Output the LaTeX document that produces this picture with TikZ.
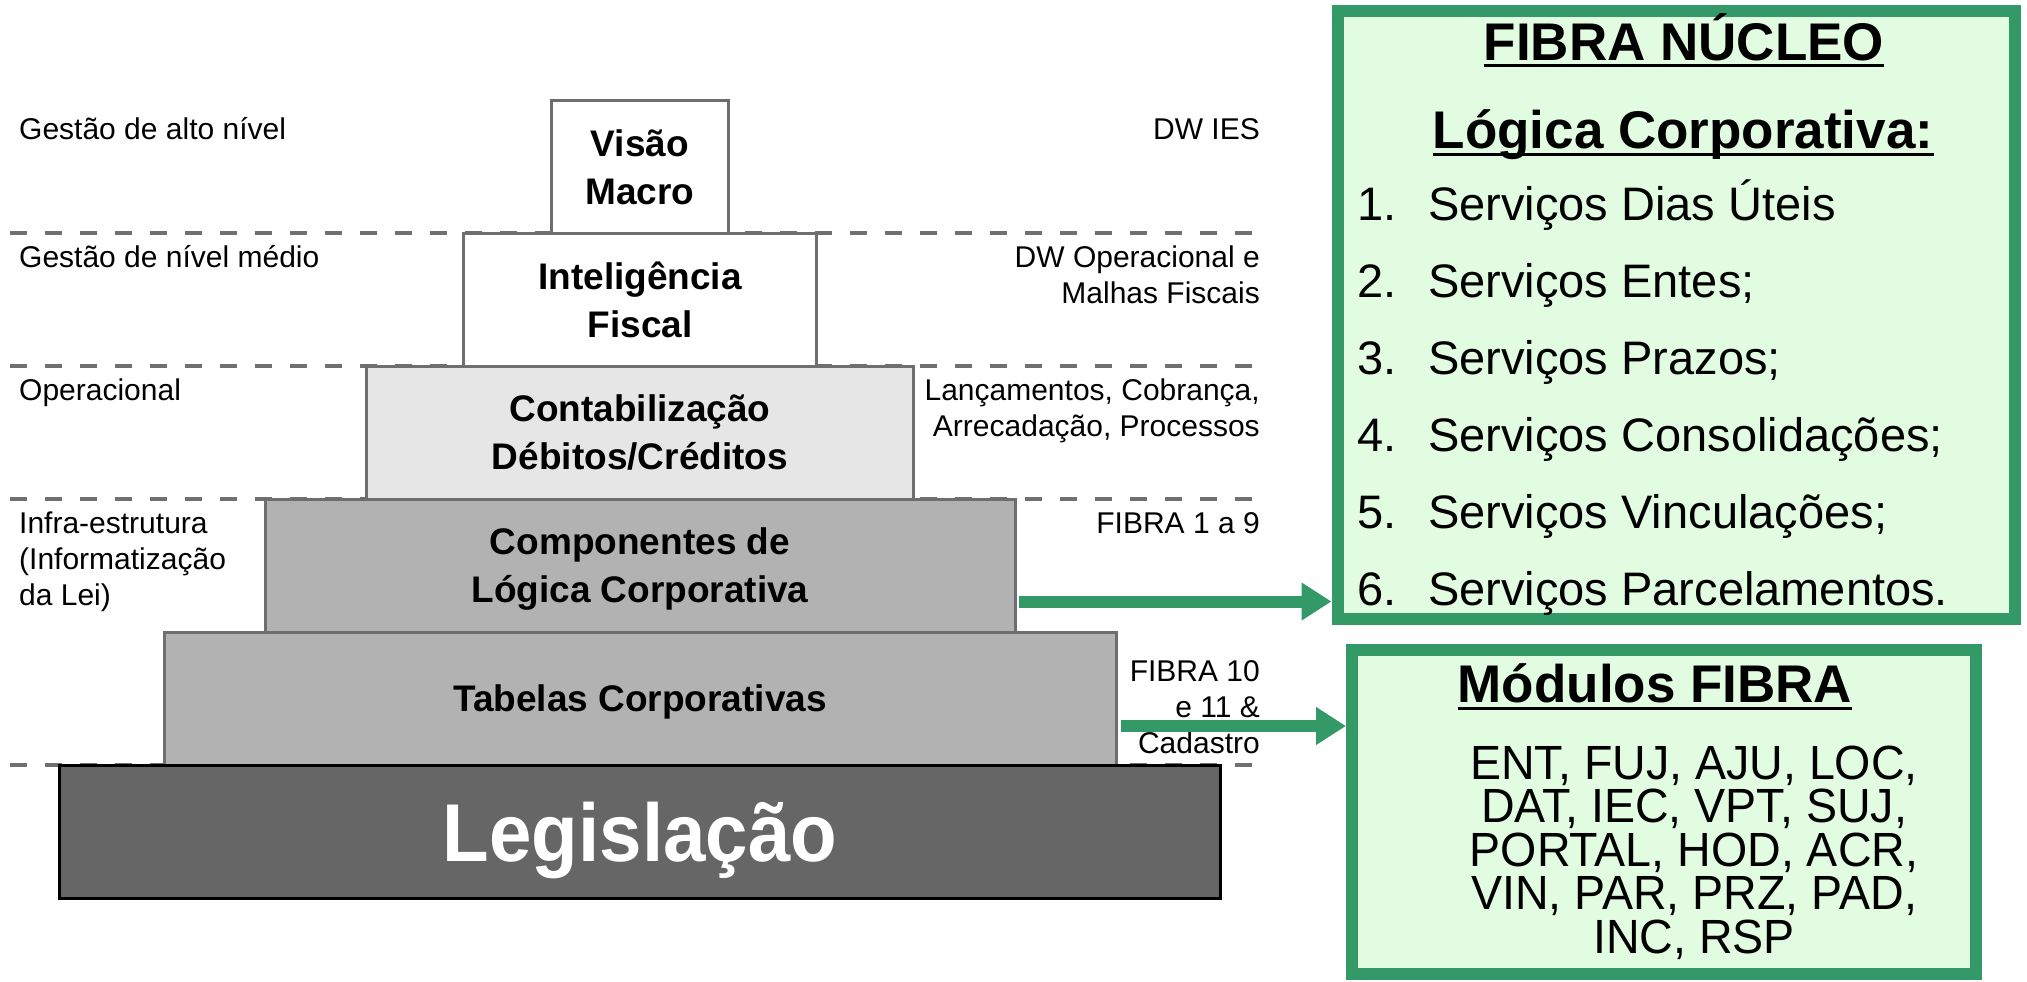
\documentclass[tikz,border=0pt]{standalone}
\usepackage{fontspec}
\setmainfont{Liberation Sans}
\newfontfamily\estreita[FakeStretch=0.93]{Liberation Sans}
\newfontfamily\codfont[FakeStretch=0.97]{Liberation Sans}
\usetikzlibrary{arrows.meta}

\definecolor{cinzaborda}{RGB}{110,110,110}
\definecolor{cinzaclaro}{RGB}{230,230,230}
\definecolor{cinzamedio}{RGB}{178,178,178}
\definecolor{cinzaescuro}{RGB}{102,102,102}
\definecolor{tracejado}{RGB}{112,112,112}
\definecolor{verde}{RGB}{51,153,102}
\definecolor{verdeclaro}{RGB}{226,252,226}

\tikzset{
  rotulo/.style={font=\fontsize{30}{36}\selectfont, inner sep=0pt},
  camada/.style={draw=cinzaborda, line width=3pt, inner sep=0pt, outer sep=0pt, text depth=0pt,
    align=center, font=\bfseries\fontsize{37}{48}\selectfont},
  divisa/.style={draw=tracejado, line width=4pt, dash pattern=on 17pt off 18pt},
  caixaverde/.style={draw=verde, line width=12pt, fill=verdeclaro},
  titulo/.style={font=\bfseries\fontsize{53}{60}\selectfont, inner sep=0pt},
  item/.style={font=\fontsize{47}{56}\selectfont, inner sep=0pt, anchor=base west},
  codigo/.style={font=\codfont\fontsize{48}{44}\selectfont, inner sep=0pt, anchor=base},
  seta/.style={draw=verde, line width=12pt, -{Triangle[length=30pt,width=36pt]}}
}

\begin{document}
\begin{tikzpicture}[x=1pt,y=-1pt]
  \useasboundingbox (0,0) rectangle (2027,982);
  \def \cx {640};

  \foreach \y in {233,366,499,765} {
    \draw[divisa] (10,\y) -- (1260,\y);
  }

  % piramide
  \node[camada, fill=white, minimum width=177pt, minimum height=133pt] (visao) at (\cx,167) {Visão\\Macro};
  \node[camada, fill=white, minimum width=353pt, minimum height=133pt] (intel) at (\cx,299.5) {Inteligência\\Fiscal};
  \node[camada, fill=cinzaclaro, minimum width=547pt, minimum height=133pt] (contab) at (\cx,432.5) {Contabilização\\Débitos/Créditos};
  \node[camada, fill=cinzamedio, minimum width=750pt, minimum height=133pt] (comp) at (\cx,565.5) {Componentes de\\Lógica Corporativa};
  \node[camada, fill=cinzamedio, minimum width=952pt, minimum height=133pt] (tabelas) at (\cx,698.5) {Tabelas Corporativas};
  \node[camada, draw=black, fill=cinzaescuro, text=white, minimum width=1161pt, minimum height=133pt,
    font=\estreita\bfseries\fontsize{82}{84}\selectfont] (legis) at (\cx,831.5) {Legislação};

  \node[rotulo, anchor=base west] (gestaoalto) at (19,139) {Gestão de alto nível};
  \node[rotulo, anchor=base west] (gestaomedio) at (19,267) {Gestão de nível médio};
  \node[rotulo, anchor=base west] (operacional) at (19,400) {Operacional};
  \node[rotulo, anchor=base west] (infra) at (19,533) {Infra-estrutura};
  \node[rotulo, anchor=base west] (informat) at (19,569) {(Informatização};
  \node[rotulo, anchor=base west] (dalei) at (19,605) {da Lei)};

  \node[rotulo, anchor=base east] (dwies) at (1260,139) {DW IES};
  \node[rotulo, anchor=base east] (dwoper) at (1260,267) {DW Operacional e};
  \node[rotulo, anchor=base east] (malhas) at (1260,303) {Malhas Fiscais};
  \node[rotulo, anchor=base east] (lancam) at (1260,400) {Lançamentos, Cobrança,};
  \node[rotulo, anchor=base east] (arrec) at (1260,436) {Arrecadação, Processos};
  \node[rotulo, anchor=base east] (fibraum) at (1260,533) {FIBRA 1 a 9};
  \node[rotulo, anchor=base east] (fibradez) at (1260,681) {FIBRA 10};
  \node[rotulo, anchor=base east] (eonze) at (1260,717) {e 11 \&};
  \node[rotulo, anchor=base east] (cadastro) at (1260,753) {Cadastro};

  % caixas verdes
  \node[caixaverde, minimum width=677pt, minimum height=608pt] (nucleo) at (1676,315) {};
  \node[caixaverde, minimum width=624pt, minimum height=324pt] (modulos) at (1664,812) {};

  \node[titulo, anchor=base] (fnucleo) at (1684,60) {FIBRA NÚCLEO};
  \node[titulo, anchor=base] (logica) at (1683,148) {Lógica Corporativa:};
  \node[titulo, anchor=base] (tmodulos) at (1655,702) {Módulos FIBRA};
  \foreach \t in {fnucleo,logica,tmodulos} {
    \draw[line width=3pt] ([yshift=-6pt]\t.base west) -- ([yshift=-6pt]\t.base east);
  }

  \foreach \serv [count=\i] in {Serviços Dias Úteis, Serviços Entes;, Serviços Prazos;,
      Serviços Consolidações;, Serviços Vinculações;, Serviços Parcelamentos.} {
    \node[item] (num\i) at (1357,{220+77*(\i-1)}) {\i.};
    \node[item] (serv\i) at (1428,{220+77*(\i-1)}) {\serv};
  }

  \foreach \linha [count=\i] in {{ENT, FUJ, AJU, LOC,},{DAT, IEC, VPT, SUJ,},
      {PORTAL, HOD, ACR,},{VIN, PAR, PRZ, PAD,},{INC, RSP}} {
    \node[codigo] (cod\i) at (1694,{779+43.5*(\i-1)}) {\linha};
  }

  % setas
  \coordinate (saida1) at ([xshift=4pt,yshift=-36pt]comp.east);
  \coordinate (saida2) at ([xshift=5pt,yshift=-27.5pt]tabelas.east);
  \draw[seta] (saida1) -- (saida1 -| nucleo.west);
  \draw[seta] (saida2) -- (saida2 -| modulos.west);
\end{tikzpicture}
\end{document}
